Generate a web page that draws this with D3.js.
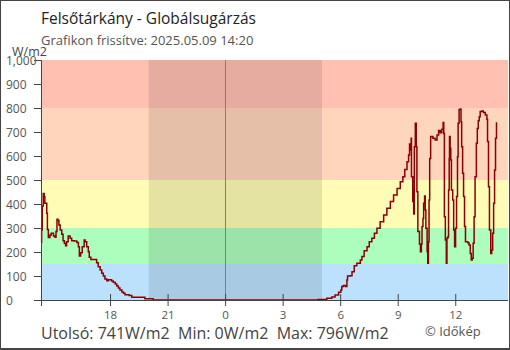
<!DOCTYPE html>
<html><head><meta charset="utf-8">
<script src="https://cdn.jsdelivr.net/npm/d3@7"></script>
<style>
html,body{margin:0;padding:0;background:#fff;}
svg{display:block;font-family:"Open Sans",sans-serif;}
</style></head>
<body>
<svg id="c" width="510" height="350"></svg>
<script>
// ---- data ----
const times = ["14:24","14:26","14:28","14:31","14:34","14:36","14:42","14:44","14:47","14:52","14:56","15:03","15:08","15:11","15:14","15:17","15:20","15:24","15:29","15:33","15:37","15:41","15:44","15:49","15:55","16:00","16:08","16:16","16:21","16:24","16:28","16:33","16:39","16:42","16:47","16:52","16:55","17:00","17:18","17:23","17:29","17:34","17:39","17:44","17:50","17:55","18:05","18:10","18:16","18:21","18:26","18:31","18:37","18:42","18:47","19:00","19:08","19:49","20:15",
"04:51","05:18","05:34","05:44","05:55","06:02","06:05","06:10","06:16","06:21","06:23","06:31","06:37","06:44","06:52","07:03","07:08","07:15","07:24","07:31","07:39","07:47","07:55","08:05","08:16","08:26","08:37","08:47","08:58","09:08","09:16","09:22","09:29","09:34","09:37","09:39","09:42","09:43","09:47","09:49","09:50","09:52","09:55","09:58","10:00","10:03","10:08","10:11","10:14","10:16","10:19","10:21","10:24","10:26","10:28","10:32","10:34","10:36","10:38","10:40","10:43","10:50","10:57","11:03","11:08","11:13","11:18","11:22","11:24","11:26","11:29","11:32","11:34","11:37","11:39","11:41","11:42","11:44","11:46","11:48","11:52","11:55","11:58","12:01","12:04","12:07","12:09","12:12","12:16","12:18","12:20","12:23","12:26","12:29","12:32","12:39","12:43","12:47","12:50","12:53","12:56","12:59","13:02","13:06","13:09","13:12","13:15","13:18","13:23","13:28","13:34","13:39","13:41","13:44","13:47","13:51","13:54","13:57","14:00","14:03","14:06","14:09"];
const values = [240,292,392,444,430,403,361,294,260,271,278,267,261,285,336,331,312,292,274,247,236,226,243,267,257,247,246,240,222,183,197,222,250,243,222,201,178,169,155,139,125,111,100,87,80,84,79,74,67,58,50,42,33,28,22,19,11,5,0,
2,7,12,21,32,42,56,60,56,83,100,101,118,143,153,167,181,205,222,243,257,278,299,326,354,382,410,437,465,493,514,544,576,604,650,625,674,514,410,458,358,639,736,639,451,285,233,201,233,306,340,403,433,375,299,201,153,243,417,590,681,674,667,688,706,697,711,740,694,347,250,153,257,264,458,590,681,632,583,458,417,292,222,299,431,597,736,794,796,743,639,528,431,306,243,239,229,194,167,174,236,347,514,653,715,747,764,785,788,781,771,753,660,472,292,194,208,278,403,542,674,741];
const startDay = "2025-05-08";
const endDay = "2025-05-09";
const domainStart = "14:24", domainEnd = "14:45";
const sunset = "20:01", sunrise = "05:03";
const xTickTimes = ["18:00","21:00","00:00","03:00","06:00","09:00","12:00"];
const yTicks = [0,100,200,300,400,500,600,700,800,900,1000];
const bandLimits = [0,150,300,500,800,1000];
const bandColors = ["#bbe1fc","#adfdbd","#fffdb5","#ffd5bc","#ffc0b1"];
const title = "Felsőtárkány - Globálsugárzás";
const subtitle = "Grafikon frissítve: 2025.05.09 14:20";
const unit = "W/m2";
const stats = "Utolsó: 741W/m2  Min: 0W/m2  Max: 796W/m2";
const credit = "© Időkép";

// ---- helpers ----
const parse = d3.timeParse("%Y-%m-%d %H:%M");
const t1 = s => parse(startDay + " " + s);
const t2 = s => parse(endDay + " " + s);
// times in order; switch to the next day when the hour wraps past midnight
function toDates(list) {
  let day = startDay, prevH = -1;
  return list.map(s => {
    const h = +s.slice(0,2);
    if (h < prevH) day = endDay;
    prevH = h;
    return parse(day + " " + s);
  });
}
const dates = toDates(times);
const data = dates.map((t,i) => ({t, v: values[i]}));
const tickDates = toDates(xTickTimes);

const L = 41, R = 508, T = 60, B = 300;
const x = d3.scaleTime().domain([t1(domainStart), t2(domainEnd)]).range([L, R]);
const y = d3.scaleLinear().domain([0, 1000]).range([B, T]);

const svg = d3.select("#c");

// bands
const bands = d3.range(bandColors.length).map(i => ({lo: bandLimits[i], hi: bandLimits[i+1], c: bandColors[i]}));
svg.append("g").selectAll("rect").data(bands).join("rect")
  .attr("x", L).attr("width", R - L)
  .attr("y", d => y(d.hi)).attr("height", d => y(d.lo) - y(d.hi))
  .attr("fill", d => d.c);

// night
svg.append("rect")
  .attr("x", x(t1(sunset))).attr("width", x(t2(sunrise)) - x(t1(sunset)))
  .attr("y", y(1000)).attr("height", y(0) - y(1000))
  .attr("fill", "#000").attr("fill-opacity", 0.1);

// midnight line
const mx = Math.round(x(t2("00:00"))) + 0.5;
svg.append("line")
  .attr("x1", mx).attr("x2", mx)
  .attr("y1", y(1000)).attr("y2", y(0))
  .attr("stroke", "#3f8fd6").attr("stroke-width", 1);

// data line
const line = d3.line().x(d => x(d.t)).y(d => y(d.v)).curve(d3.curveStepAfter);
svg.append("path").datum(data)
  .attr("d", line).attr("fill", "none")
  .attr("stroke", "#8b0000").attr("stroke-width", 1.5);

// axes
const axisColor = "#444";
const labelColor = "#555";
const xa = svg.append("g").attr("transform", `translate(0,${B})`)
  .call(d3.axisBottom(x).tickValues(tickDates).tickFormat(d3.timeFormat("%-H")).tickSizeOuter(0).tickSizeInner(6));
xa.select(".domain").remove();
xa.selectAll(".tick line").attr("y1", -6).attr("y2", 6).attr("stroke", axisColor);
xa.selectAll(".tick text").attr("y", 19).attr("dy", 0).attr("fill", labelColor)
  .style("font-size", "11.5px").style("font-family", '"Open Sans",sans-serif');

const ya = svg.append("g").attr("transform", `translate(${L},0)`)
  .call(d3.axisLeft(y).tickValues(yTicks).tickSizeOuter(0).tickSizeInner(7));
ya.select(".domain").remove();
ya.selectAll(".tick line").attr("stroke", axisColor);
ya.selectAll(".tick text").attr("x", -35).attr("dy", "0.35em").attr("text-anchor", "start")
  .attr("fill", labelColor).style("font-size", "12px").style("font-family", '"Open Sans",sans-serif');

svg.append("line").attr("x1", L + 0.5).attr("x2", L + 0.5).attr("y1", T).attr("y2", B + 6)
  .attr("stroke", axisColor);
svg.append("line").attr("x1", 34).attr("x2", R).attr("y1", B + 0.5).attr("y2", B + 0.5)
  .attr("stroke", axisColor);

// texts
svg.append("text").attr("x", 41).attr("y", 23.5).text(title)
  .attr("fill", "#222").style("font-size", "15.5px");
svg.append("text").attr("x", 41).attr("y", 45).text(subtitle)
  .attr("fill", labelColor).style("font-size", "13px");
svg.append("text").attr("x", 12).attr("y", 56).text(unit)
  .attr("fill", "#444").style("font-size", "12.5px");
svg.append("text").attr("x", 41).attr("y", 339).text(stats)
  .attr("fill", "#444").style("font-size", "16px").style("white-space","pre");
svg.append("text").attr("x", 425).attr("y", 335.5).text(credit)
  .attr("fill", labelColor).style("font-size", "13px");

// frame
svg.append("rect").attr("x", 0.5).attr("y", 0.5).attr("width", 509).attr("height", 348)
  .attr("fill", "none").attr("stroke", "#444").attr("stroke-width", 1);
svg.append("line").attr("x1", 0).attr("x2", 510).attr("y1", 349.5).attr("y2", 349.5)
  .attr("stroke", "#444");
</script>
</body></html>
